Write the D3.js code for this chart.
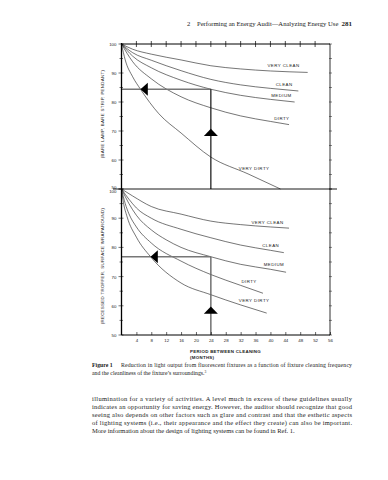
<!DOCTYPE html>
<html>
  <head>
    <title>Figure 1</title>
  <script src="https://d3js.org/d3.v7.min.js"></script>
  <style>
    body { margin: 0; background: #fff; }
  </style>
 </head>
<body>
<script type="text/javascript">

// x axis: period between cleaning (months)
var monthTicks = [4, 8, 12, 16, 20, 24, 28, 32, 36, 40, 44, 48, 52, 56];
var valueTicks = [50, 60, 70, 80, 90, 100];
var minorTicks = [55, 65, 75, 85, 95];
var seriesNames = ["VERY CLEAN", "CLEAN", "MEDIUM", "DIRTY", "VERY DIRTY"];

// upper panel: bare lamp, bare strip, pendant   [month, % light output]
var bareVeryClean = [[0,100],[3,98.2],[8,96.5],[16,94.5],[24,92.5],[32,91.4],[40,90.7],[50,90.2]];
var bareClean     = [[0,100],[3,97],[8,94.4],[16,90.8],[24,87.8],[32,85.9],[40,84.7],[47.5,83.8]];
var bareMedium    = [[0,100],[3,95.8],[8,91.8],[16,87.5],[24,84.4],[32,82.3],[40,80.9],[46.5,80]];
var bareDirty     = [[0,100],[3,93.9],[8,88],[16,81.8],[24,78],[32,75.2],[40,73.3],[45,72.2]];
var bareVeryDirty = [[0,100],[1,94.5],[3,88.7],[5.1,84.4],[10,76],[16,69.3],[24,61],[34,55.2],[42.7,50]];

// lower panel: recessed troffer, surface wraparound
var wrapVeryClean = [[0,100],[3,97.6],[8,94],[16,91.4],[24,89],[32,87.8],[40,87],[45,86.6]];
var wrapClean     = [[0,100],[2,96.5],[4,93.5],[8,90],[16,86.2],[24,83.3],[32,80.8],[40,79],[43.6,78.2]];
var wrapMedium    = [[0,100],[2,95],[4,91],[8,86],[12,82.6],[16,80],[24,76.8],[32,74.2],[40,72.5],[44.2,71.5]];
var wrapDirty     = [[0,100],[1,95],[2,91.5],[4,87],[8,81.5],[16,75.3],[24,70.7],[32,67],[38,64.3]];
var wrapVeryDirty = [[0,100],[0.5,95.5],[1.5,90.5],[4,83.5],[7.8,76.8],[16,67.8],[24,63.8],[32,60.3],[39,57.5]];

// reading example drawn with arrows
var readMonth = 24;
var bareRead = {value: 84.4, leftTip: 5.1, upTip: 70.8};
var wrapRead = {value: 76.8, leftTip: 7.8, upTip: 59.8};

var width = 388, height = 480;

var svg = d3.select("body").append("svg")
    .attr("width", width)
    .attr("height", height);

var x = d3.scaleLinear().domain([0, 56]).range([121.5, 330]);
var yTop = d3.scaleLinear().domain([50, 100]).range([189, 44]);
var yBot = d3.scaleLinear().domain([50, 100]).range([335, 189]);

var ink = "#1a1a1a";
var sans = "'Liberation Sans', Arial, sans-serif";
var serif = "'Liberation Serif', 'Times New Roman', serif";

// header
var header = svg.append("text")
    .attr("y", 26)
    .attr("font-family", serif)
    .attr("font-size", 6.6)
    .attr("fill", ink);
header.append("tspan").attr("x", 187).text("2");
header.append("tspan").attr("x", 197).text("Performing an Energy Audit\u2014Analyzing Energy Use");
svg.append("text")
    .attr("x", 352).attr("y", 26)
    .attr("text-anchor", "end")
    .attr("font-family", serif)
    .attr("font-size", 7)
    .attr("font-weight", "bold")
    .attr("fill", ink)
    .text("281");

function drawPanel(y, series, labelAt, read, title, titleY, isTop) {
  var g = svg.append("g");

  var line = d3.line()
      .x(function(d) { return x(d[0]); })
      .y(function(d) { return y(d[1]); })
      .curve(d3.curveMonotoneX);

  g.selectAll("path.curve")
    .data(series)
    .enter()
    .append("path")
    .attr("class", "curve")
    .attr("d", line)
    .attr("fill", "none")
    .attr("stroke", ink)
    .attr("stroke-width", 0.6);

  g.selectAll("text.name")
    .data(seriesNames)
    .enter()
    .append("text")
    .attr("class", "name")
    .attr("x", function(d, i) { return x(labelAt[i][0]); })
    .attr("y", function(d, i) { return y(labelAt[i][1]); })
    .attr("font-family", sans)
    .attr("font-size", 4.4)
    .attr("letter-spacing", 0.45)
    .attr("fill", ink)
    .text(function(d) { return d; });

  // reading lines
  g.append("line")
    .attr("x1", x(0)).attr("x2", x(readMonth))
    .attr("y1", y(read.value)).attr("y2", y(read.value))
    .attr("stroke", "#777").attr("stroke-width", 1.5);
  g.append("line")
    .attr("x1", x(readMonth)).attr("x2", x(readMonth))
    .attr("y1", y(read.value)).attr("y2", y(50))
    .attr("stroke", isTop ? "#111" : "#666").attr("stroke-width", isTop ? 1.2 : 1.4);

  var lx = x(read.leftTip), ly = y(read.value);
  g.append("path")
    .attr("d", "M" + lx + "," + ly + "L" + (lx + 7.3) + "," + (ly - 6.5) + "L" + (lx + 7.3) + "," + (ly + 6.5) + "Z")
    .attr("fill", "#000");
  var ux = x(readMonth), uy = y(read.upTip);
  g.append("path")
    .attr("d", "M" + ux + "," + uy + "L" + (ux + 7) + "," + (uy + 7.4) + "L" + (ux - 7) + "," + (uy + 7.4) + "Z")
    .attr("fill", "#000");

  // left axis
  var yAxis = d3.axisLeft(y).tickValues(valueTicks).tickSize(0).tickPadding(5);
  var ax = g.append("g")
    .attr("transform", "translate(" + x(0) + ",0)")
    .call(yAxis);
  ax.select(".domain").remove();
  ax.selectAll("text")
    .attr("font-family", sans)
    .attr("font-size", 4.4)
    .attr("fill", ink)
    .attr("dy", function(d) {
      if (isTop && d === 50) return "-0.05em";
      if (!isTop && d === 100) return "0.85em";
      return "0.32em";
    });

  g.selectAll("line.ytick")
    .data(valueTicks.concat(minorTicks))
    .enter()
    .append("line")
    .attr("class", "ytick")
    .attr("x1", function(d) { return x(0) - (d % 10 === 0 ? 3 : 2); })
    .attr("x2", function(d) { return x(0) + (d % 10 === 0 ? 2 : 1.5); })
    .attr("y1", function(d) { return y(d); })
    .attr("y2", function(d) { return y(d); })
    .attr("stroke", ink).attr("stroke-width", 0.6);

  // right border ticks
  g.selectAll("line.rtick")
    .data(valueTicks.concat(minorTicks))
    .enter()
    .append("line")
    .attr("class", "rtick")
    .attr("x1", x(56) - 1)
    .attr("x2", x(56) + (valueTicks.indexOf(0) < 0 ? 2 : 2))
    .attr("y1", function(d) { return y(d); })
    .attr("y2", function(d) { return y(d); })
    .attr("stroke", ink).attr("stroke-width", 0.5);

  // right border
  g.append("line")
    .attr("x1", x(56)).attr("x2", x(56))
    .attr("y1", y(100)).attr("y2", y(50))
    .attr("stroke", ink).attr("stroke-width", 0.9);

  // axis title
  svg.append("text")
    .attr("transform", "translate(104," + titleY + ") rotate(-90)")
    .attr("text-anchor", "middle")
    .attr("font-family", sans)
    .attr("font-size", 4.4)
    .attr("letter-spacing", 0.3)
    .attr("fill", ink)
    .text(title);
}

drawPanel(yTop,
  [bareVeryClean, bareClean, bareMedium, bareDirty, bareVeryDirty],
  [[39.2, 92.2], [41.4, 85.6], [40.2, 81.8], [41, 73.7], [31.5, 56.7]],
  bareRead, "(BARE LAMP, BARE STRIP, PENDANT)", 114, true);

drawPanel(yBot,
  [wrapVeryClean, wrapClean, wrapMedium, wrapDirty, wrapVeryDirty],
  [[34.9, 88], [37.8, 80.1], [38.2, 73.6], [32.2, 67.9], [31.5, 61.3]],
  wrapRead, "(RECESSED TROFFER, SURFACE WRAPAROUND)", 266, false);

// frame lines
svg.append("line")   // left axis through both panels
  .attr("x1", x(0)).attr("x2", x(0))
  .attr("y1", yTop(100) - 1).attr("y2", yBot(50))
  .attr("stroke", "#000").attr("stroke-width", 1.3);
svg.append("line")   // top edge
  .attr("x1", x(0)).attr("x2", x(56))
  .attr("y1", yTop(100)).attr("y2", yTop(100))
  .attr("stroke", "#000").attr("stroke-width", 1);
svg.append("line")   // panel divider
  .attr("x1", 113).attr("x2", 337)
  .attr("y1", yTop(50)).attr("y2", yTop(50))
  .attr("stroke", "#000").attr("stroke-width", 0.9);
svg.append("line")   // bottom axis
  .attr("x1", x(0)).attr("x2", x(56))
  .attr("y1", yBot(50)).attr("y2", yBot(50))
  .attr("stroke", "#000").attr("stroke-width", 1);

// top edge month ticks (unlabelled)
svg.selectAll("line.ttick")
  .data(monthTicks.slice(0, -1))
  .enter()
  .append("line")
  .attr("class", "ttick")
  .attr("x1", function(d) { return x(d); })
  .attr("x2", function(d) { return x(d); })
  .attr("y1", yTop(100) - 3).attr("y2", yTop(100) + 3)
  .attr("stroke", "#000").attr("stroke-width", 0.7);

// bottom month axis
var xAxis = d3.axisBottom(x).tickValues(monthTicks).tickSize(-3).tickPadding(4);
var xa = svg.append("g")
  .attr("transform", "translate(0," + yBot(50) + ")")
  .call(xAxis);
xa.select(".domain").remove();
xa.selectAll(".tick line").attr("stroke", "#000").attr("stroke-width", 0.6);
xa.selectAll("text")
  .attr("font-family", sans)
  .attr("font-size", 4.4)
  .attr("fill", ink);

svg.append("text")
  .attr("x", 190).attr("y", 352.5)
  .attr("font-family", sans).attr("font-size", 4.4)
  .attr("font-weight", "bold").attr("letter-spacing", 0.3)
  .attr("fill", ink)
  .text("PERIOD BETWEEN CLEANING");
svg.append("text")
  .attr("x", 190).attr("y", 358.5)
  .attr("font-family", sans).attr("font-size", 4.4)
  .attr("font-weight", "bold").attr("letter-spacing", 0.3)
  .attr("fill", ink)
  .text("(MONTHS)");

// caption
svg.append("text")
  .attr("x", 92).attr("y", 367)
  .attr("font-family", serif).attr("font-size", 5.8)
  .attr("font-weight", "bold").attr("fill", ink)
  .text("Figure 1");
svg.append("text")
  .attr("x", 121).attr("y", 367)
  .attr("font-family", serif).attr("font-size", 5.8)
  .attr("fill", ink)
  .attr("textLength", 231).attr("lengthAdjust", "spacing")
  .text("Reduction in light output from fluorescent fixtures as a function of fixture cleaning frequency");
var cap2 = svg.append("text")
  .attr("x", 92).attr("y", 375)
  .attr("font-family", serif).attr("font-size", 5.8)
  .attr("fill", ink)
  .text("and the cleanliness of the fixture\u2019s surroundings.");
cap2.append("tspan").attr("dy", -2).attr("font-size", 3.6).text("3");

// body text
var bodyLines = [
  "illumination for a variety of activities. A level much in excess of these guidelines usually",
  "indicates an opportunity for saving energy. However, the auditor should recognize that good",
  "seeing also depends on other factors such as glare and contrast and that the esthetic aspects",
  "of lighting systems (i.e., their appearance and the effect they create) can also be important.",
  "More information about the design of lighting systems can be found in Ref. 1."
];
svg.selectAll("text.body")
  .data(bodyLines)
  .enter()
  .append("text")
  .attr("class", "body")
  .attr("x", 92)
  .attr("y", function(d, i) { return 401 + i * 8; })
  .attr("font-family", serif).attr("font-size", 6.5)
  .attr("fill", ink)
  .each(function(d, i) {
    if (i < bodyLines.length - 1) {
      d3.select(this).attr("textLength", 260).attr("lengthAdjust", "spacing");
    }
  })
  .text(function(d) { return d; });

</script>
</body>
</html>
